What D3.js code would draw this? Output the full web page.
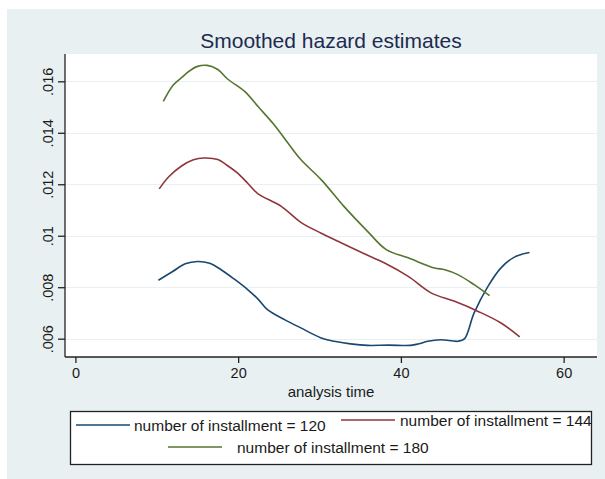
<!DOCTYPE html>
<html>
<head>
<meta charset="utf-8">
<script src="https://cdn.jsdelivr.net/npm/d3@7/dist/d3.min.js"></script>
<style>
  body { margin: 0; background: #fff; }
  svg { display: block; font-family: "Liberation Sans", Arial, sans-serif; }
</style>
</head>
<body>
<div id="chart"></div>
<script>
// analysis time (x) and smoothed hazard (y)
var t120 = [10.2, 12.0, 13.5, 15.0, 16.5, 17.9, 19.5, 21.2, 22.5, 23.6, 25.7, 27.7, 30.2, 31.8, 33.8, 35.9, 38.5, 41.2, 42.2, 43.3, 44.9, 47.0, 47.8, 49.0, 50.7, 52.3, 54.0, 55.8];
var h120 = [.00827, .00862, .00891, .00900, .00893, .00868, .00832, .00790, .00752, .00713, .00674, .00642, .00603, .00590, .00580, .00574, .00575, .00574, .00580, .00590, .00596, .00590, .00599, .00700, .00803, .00875, .00918, .00935];

var t144 = [10.3, 11.5, 13.0, 14.5, 15.8, 17.5, 18.8, 19.9, 21.2, 22.4, 25.3, 27.7, 30.2, 32.7, 35.3, 38.0, 40.9, 43.7, 46.6, 49.5, 52.3, 54.6];
var h144 = [.01182, .01230, .01270, .01295, .01302, .01296, .01270, .01244, .01203, .01164, .01114, .01052, .01010, .00972, .00933, .00894, .00842, .00778, .00745, .00706, .00661, .00607];

var t180 = [10.8, 12.0, 13.0, 14.0, 15.0, 16.2, 17.5, 18.7, 20.8, 22.5, 24.4, 26.0, 27.7, 30.2, 33.0, 35.9, 38.2, 40.9, 44.1, 45.4, 47.0, 49.0, 50.9];
var h180 = [.01522, .01585, .01613, .01640, .01658, .01662, .01646, .01609, .01561, .01500, .01432, .01365, .01296, .01218, .01114, .01017, .00946, .00914, .00875, .00868, .00849, .00810, .00767];

var seriesNames = ["number of installment = 120", "number of installment = 144", "number of installment = 180"];
var xTicks = [0, 20, 40, 60];
var yTicks = [.006, .008, .01, .012, .014, .016];
var yTickLabels = [".006", ".008", ".01", ".012", ".014", ".016"];

var W = 605, H = 479;
var colors = ["#1a476f", "#90353b", "#55752f"];

var svg = d3.select("#chart").append("svg")
  .attr("width", W)
  .attr("height", H);

// graph region
svg.append("rect")
  .attr("x", 7).attr("y", 9)
  .attr("width", W - 7).attr("height", H - 9)
  .style("fill", "#e8f0f2");

var pLeft = 65, pRight = 597, pTop = 54, pBottom = 357;

var x = d3.scaleLinear().domain([-1.28, 64.1]).range([pLeft, pRight]);
var y = d3.scaleLinear().domain([.0052885, .017061]).range([pBottom, pTop]);

svg.append("rect")
  .attr("x", pLeft).attr("y", pTop)
  .attr("width", pRight - pLeft).attr("height", pBottom - pTop)
  .style("fill", "#fff");

// gridlines
svg.selectAll(".grid")
  .data(yTicks)
  .enter()
  .append("line")
  .attr("class", "grid")
  .attr("x1", pLeft).attr("x2", pRight)
  .attr("y1", function(d) { return Math.round(y(d)) + 0.5; })
  .attr("y2", function(d) { return Math.round(y(d)) + 0.5; })
  .style("stroke", "#e8f0f2")
  .style("stroke-width", 1.2);

// axes
var xAxis = d3.axisBottom(x).tickValues(xTicks).tickSize(6).tickPadding(5).tickSizeOuter(0);
var gx = svg.append("g")
  .attr("transform", "translate(0," + pBottom + ")")
  .call(xAxis);
gx.select(".domain").remove();
gx.append("line")
  .attr("x1", pLeft).attr("x2", pRight)
  .attr("y1", 0).attr("y2", 0)
  .style("stroke", "#222").style("stroke-width", 1.3);
gx.selectAll(".tick line").style("stroke", "#222").style("stroke-width", 1.3);
gx.selectAll(".tick text")
  .style("font-size", "14.5px")
  .style("fill", "#1a1a1a")
  .style("font-family", "Liberation Sans, Arial, sans-serif");

var yAxis = d3.axisLeft(y).tickValues(yTicks)
  .tickFormat(function(d, i) { return yTickLabels[i]; })
  .tickSize(7).tickSizeOuter(0);
var gy = svg.append("g")
  .attr("transform", "translate(" + pLeft + ",0)")
  .call(yAxis);
gy.select(".domain").remove();
gy.append("line")
  .attr("x1", 0).attr("x2", 0)
  .attr("y1", pTop).attr("y2", pBottom)
  .style("stroke", "#222").style("stroke-width", 1.3);
gy.selectAll(".tick line").style("stroke", "#222").style("stroke-width", 1.3);
gy.selectAll(".tick text")
  .attr("x", null).attr("dy", null)
  .attr("transform", "translate(-12,0) rotate(-90)")
  .attr("text-anchor", "middle")
  .attr("dy", "0")
  .style("font-size", "14.5px")
  .style("fill", "#1a1a1a")
  .style("font-family", "Liberation Sans, Arial, sans-serif");

// title and axis label
svg.append("text")
  .attr("x", 331).attr("y", 48)
  .attr("text-anchor", "middle")
  .style("font-size", "21px")
  .style("fill", "#1c2b4f")
  .text("Smoothed hazard estimates");

svg.append("text")
  .attr("x", 331).attr("y", 397)
  .attr("text-anchor", "middle")
  .style("font-size", "15px")
  .style("fill", "#1a1a1a")
  .text("analysis time");

// curves
var series = [
  { t: t120, h: h120 },
  { t: t144, h: h144 },
  { t: t180, h: h180 }
];
var line = d3.line()
  .x(function(d) { return x(d[0]); })
  .y(function(d) { return y(d[1]); })
  .curve(d3.curveCatmullRom.alpha(0.5));

svg.selectAll(".curve")
  .data(series)
  .enter()
  .append("path")
  .attr("class", "curve")
  .attr("d", function(s) { return line(d3.zip(s.t, s.h)); })
  .style("fill", "none")
  .style("stroke", function(d, i) { return colors[i]; })
  .style("stroke-width", 1.6);

// legend
svg.append("rect")
  .attr("x", 70.5).attr("y", 411.5)
  .attr("width", 521).attr("height", 53)
  .style("fill", "#fff")
  .style("stroke", "#222")
  .style("stroke-width", 1.3);

var legendItems = [
  { x1: 76, x2: 130, tx: 134, y: 425 },
  { x1: 341, x2: 395, tx: 400, y: 420 },
  { x1: 168, x2: 222, tx: 237, y: 447 }
];
var lg = svg.selectAll(".legend")
  .data(legendItems)
  .enter()
  .append("g")
  .attr("class", "legend");
lg.append("line")
  .attr("x1", function(d) { return d.x1; })
  .attr("x2", function(d) { return d.x2; })
  .attr("y1", function(d) { return d.y; })
  .attr("y2", function(d) { return d.y; })
  .style("stroke", function(d, i) { return colors[i]; })
  .style("stroke-width", 1.6);
lg.append("text")
  .attr("x", function(d) { return d.tx; })
  .attr("y", function(d) { return d.y + 5.5; })
  .style("font-size", "15.5px")
  .style("fill", "#1a1a1a")
  .text(function(d, i) { return seriesNames[i]; });
</script>
</body>
</html>
